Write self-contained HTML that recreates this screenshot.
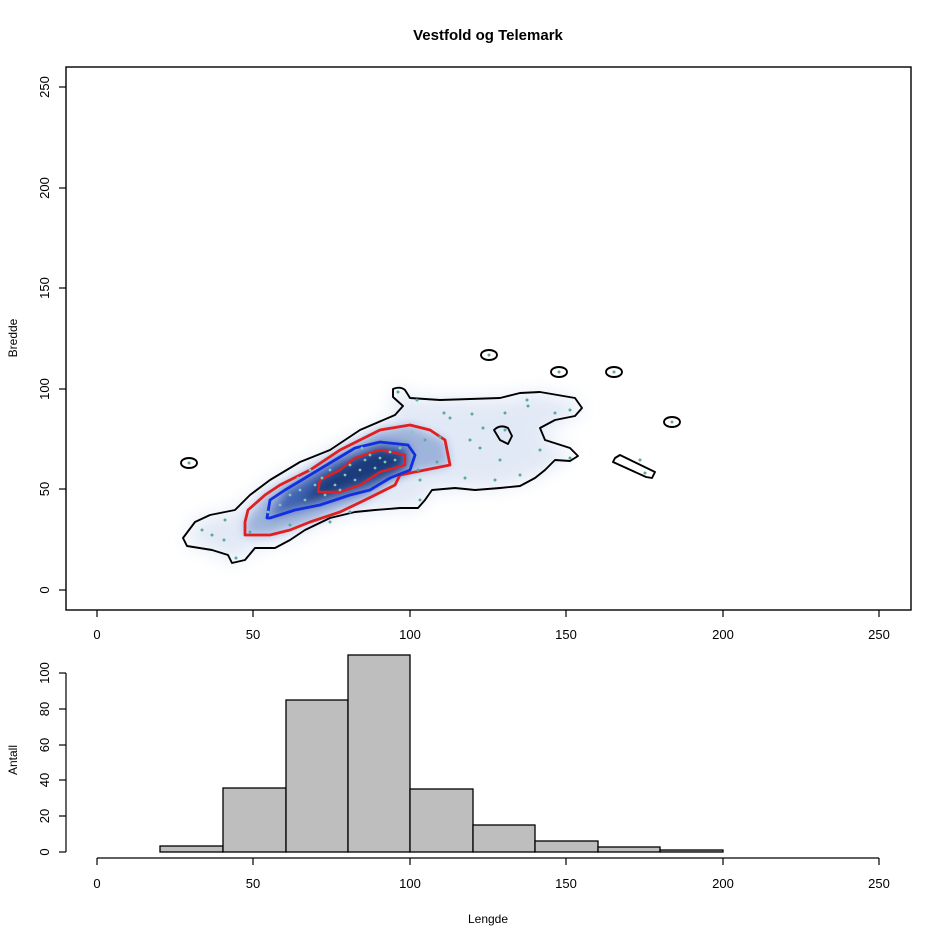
<!DOCTYPE html>
<html><head><style>
body{margin:0;background:#fff;}
svg{display:block;font-family:"Liberation Sans",Arial,sans-serif;}
</style></head><body>
<svg width="945" height="944" viewBox="0 0 945 944">
<defs>
<filter id="b1" x="-50%" y="-50%" width="200%" height="200%"><feGaussianBlur stdDeviation="9"/></filter>
<filter id="b2" x="-50%" y="-50%" width="200%" height="200%"><feGaussianBlur stdDeviation="5"/></filter>
</defs>
<text x="488" y="40" font-size="15" font-weight="bold" text-anchor="middle">Vestfold og Telemark</text>
<g filter="url(#b1)">
<path d="M393,389 L405,390 410,398 500,398 540,392 580,402 582,413 545,430 545,440 575,452 560,462 535,478 500,488 430,490 420,508 375,510 330,518 290,540 255,548 232,563 212,550 185,545 195,520 235,510 270,480 330,450 395,415 Z" fill="#e2e9f6"/>
</g>
<g filter="url(#b2)">
<path d="M245,522 L265,495 310,470 340,450 380,430 410,425 445,440 450,465 400,475 365,500 310,522 270,535 245,535 Z" fill="#9fb3dc"/>
<path d="M267,518 L285,490 335,460 380,442 410,445 410,470 370,490 320,505 270,518 Z" fill="#3d63b3"/>
<path d="M300,505 L320,480 355,458 380,448 405,455 400,468 360,485 320,498 Z" fill="#1b3a7a"/>
</g>
<g fill="none" stroke="#000" stroke-width="1.9" stroke-linejoin="round">
<path d="M393,389 Q400,386 405,390 L410,398 440,400 500,398 520,393 540,392 575,398 582,408 575,416 555,420 540,428 545,440 570,448 578,456 570,461 555,460 545,470 535,478 520,486 500,488 475,490 455,488 432,490 425,500 418,508 400,508 375,510 355,512 330,518 305,530 290,540 275,548 255,548 245,560 232,563 228,555 212,550 187,546 183,538 195,522 210,515 235,510 250,495 270,480 300,462 330,450 360,430 395,415 403,406 393,397 Z"/>
<ellipse cx="189" cy="463" rx="8" ry="5"/>
<ellipse cx="489" cy="355" rx="8" ry="5"/>
<ellipse cx="559" cy="372" rx="8" ry="5"/>
<ellipse cx="614" cy="372" rx="8" ry="5"/>
<ellipse cx="672" cy="422" rx="8" ry="5"/>
<path d="M494,430 Q500,424 508,428 L512,436 508,444 500,440 Z"/>
<path d="M615,458 L620,455 655,472 652,478 646,477 613,462 Z"/>
</g>
<path d="M245,522 L248,510 265,495 280,485 310,470 340,450 380,430 410,425 430,430 445,440 448,455 450,465 425,470 400,475 395,485 365,500 340,512 310,522 290,530 270,535 245,535 Z" fill="none" stroke="#e02020" stroke-width="2.8" stroke-linejoin="round"/>
<path d="M267,518 L270,500 285,490 310,475 335,460 355,448 380,442 408,445 415,455 410,470 390,478 370,490 350,495 320,505 295,510 270,518 Z" fill="none" stroke="#1030e0" stroke-width="2.8" stroke-linejoin="round"/>
<path d="M318,492 L320,480 340,470 355,458 380,450 405,455 405,465 380,472 360,485 340,492 Z" fill="none" stroke="#e02020" stroke-width="2.4" stroke-linejoin="round"/>
<g fill="#5aa8a0">
<circle cx="189" cy="463" r="1.5"/><circle cx="489" cy="355" r="1.5"/><circle cx="559" cy="372" r="1.5"/><circle cx="614" cy="372" r="1.5"/><circle cx="672" cy="422" r="1.5"/><circle cx="236" cy="558" r="1.5"/>
<circle cx="398" cy="392" r="1.5"/><circle cx="417" cy="400" r="1.5"/><circle cx="527" cy="400" r="1.5"/><circle cx="528" cy="406" r="1.5"/><circle cx="555" cy="413" r="1.5"/><circle cx="570" cy="410" r="1.5"/><circle cx="444" cy="413" r="1.5"/><circle cx="450" cy="418" r="1.5"/><circle cx="472" cy="414" r="1.5"/><circle cx="505" cy="413" r="1.5"/><circle cx="483" cy="428" r="1.5"/><circle cx="540" cy="450" r="1.5"/><circle cx="570" cy="458" r="1.5"/><circle cx="480" cy="448" r="1.5"/><circle cx="500" cy="460" r="1.5"/><circle cx="465" cy="478" r="1.5"/><circle cx="495" cy="480" r="1.5"/><circle cx="470" cy="440" r="1.5"/><circle cx="520" cy="475" r="1.5"/><circle cx="425" cy="440" r="1.5"/><circle cx="440" cy="437" r="1.5"/><circle cx="437" cy="462" r="1.5"/><circle cx="418" cy="470" r="1.5"/><circle cx="420" cy="480" r="1.5"/><circle cx="420" cy="500" r="1.5"/><circle cx="224" cy="540" r="1.5"/><circle cx="212" cy="535" r="1.5"/><circle cx="202" cy="530" r="1.5"/><circle cx="225" cy="520" r="1.5"/><circle cx="250" cy="532" r="1.5"/><circle cx="290" cy="525" r="1.5"/><circle cx="330" cy="522" r="1.5"/><circle cx="350" cy="512" r="1.5"/><circle cx="640" cy="460" r="1.5"/><circle cx="645" cy="473" r="1.5"/><circle cx="505" cy="430" r="1.5"/>
</g>
<g fill="#7fc8b8">
<circle cx="280" cy="505" r="1.4"/><circle cx="290" cy="495" r="1.4"/><circle cx="300" cy="490" r="1.4"/><circle cx="305" cy="500" r="1.4"/><circle cx="315" cy="485" r="1.4"/><circle cx="322" cy="478" r="1.4"/><circle cx="330" cy="470" r="1.4"/><circle cx="335" cy="485" r="1.4"/><circle cx="345" cy="475" r="1.4"/><circle cx="350" cy="465" r="1.4"/><circle cx="355" cy="480" r="1.4"/><circle cx="360" cy="470" r="1.4"/><circle cx="365" cy="460" r="1.4"/><circle cx="370" cy="455" r="1.4"/><circle cx="375" cy="468" r="1.4"/><circle cx="380" cy="458" r="1.4"/><circle cx="385" cy="462" r="1.4"/><circle cx="390" cy="452" r="1.4"/><circle cx="395" cy="460" r="1.4"/><circle cx="400" cy="448" r="1.4"/><circle cx="340" cy="490" r="1.4"/><circle cx="325" cy="495" r="1.4"/><circle cx="310" cy="470" r="1.4"/><circle cx="298" cy="478" r="1.4"/><circle cx="362" cy="448" r="1.4"/><circle cx="372" cy="440" r="1.4"/><circle cx="405" cy="438" r="1.4"/><circle cx="412" cy="432" r="1.4"/><circle cx="428" cy="448" r="1.4"/><circle cx="268" cy="512" r="1.4"/><circle cx="260" cy="520" r="1.4"/><circle cx="275" cy="525" r="1.4"/>
</g>
<rect x="66" y="67" width="845" height="543" fill="none" stroke="#000" stroke-width="1.4"/>
<g stroke="#000" stroke-width="1.2">
<line x1="97" y1="610" x2="97" y2="617"/><line x1="253" y1="610" x2="253" y2="617"/><line x1="410" y1="610" x2="410" y2="617"/><line x1="566" y1="610" x2="566" y2="617"/><line x1="723" y1="610" x2="723" y2="617"/><line x1="879" y1="610" x2="879" y2="617"/>
<line x1="59" y1="590" x2="66" y2="590"/><line x1="59" y1="489" x2="66" y2="489"/><line x1="59" y1="389" x2="66" y2="389"/><line x1="59" y1="288" x2="66" y2="288"/><line x1="59" y1="188" x2="66" y2="188"/><line x1="59" y1="87" x2="66" y2="87"/>
</g>
<g font-size="13" text-anchor="middle">
<text x="97" y="639">0</text><text x="253" y="639">50</text><text x="410" y="639">100</text><text x="566" y="639">150</text><text x="723" y="639">200</text><text x="879" y="639">250</text>
</g>
<g font-size="13" text-anchor="middle">
<text transform="translate(49,590) rotate(-90)">0</text><text transform="translate(49,489) rotate(-90)">50</text><text transform="translate(49,389) rotate(-90)">100</text><text transform="translate(49,288) rotate(-90)">150</text><text transform="translate(49,188) rotate(-90)">200</text><text transform="translate(49,87) rotate(-90)">250</text>
<text transform="translate(17,338) rotate(-90)" font-size="12">Bredde</text>
</g>
<g fill="#bebebe" stroke="#000" stroke-width="1.3">
<rect x="160" y="846" width="63" height="6"/>
<rect x="223" y="788" width="63" height="64"/>
<rect x="286" y="700" width="62" height="152"/>
<rect x="348" y="655" width="62" height="197"/>
<rect x="410" y="789" width="63" height="63"/>
<rect x="473" y="825" width="62" height="27"/>
<rect x="535" y="841" width="63" height="11"/>
<rect x="598" y="847" width="62" height="5"/>
<rect x="660" y="850" width="63" height="2"/>
</g>
<g stroke="#000" stroke-width="1.2">
<line x1="97" y1="858" x2="879" y2="858"/>
<line x1="97" y1="858" x2="97" y2="865"/><line x1="253" y1="858" x2="253" y2="865"/><line x1="410" y1="858" x2="410" y2="865"/><line x1="566" y1="858" x2="566" y2="865"/><line x1="723" y1="858" x2="723" y2="865"/><line x1="879" y1="858" x2="879" y2="865"/>
<line x1="66" y1="673" x2="66" y2="852"/>
<line x1="59" y1="852" x2="66" y2="852"/><line x1="59" y1="816" x2="66" y2="816"/><line x1="59" y1="780" x2="66" y2="780"/><line x1="59" y1="745" x2="66" y2="745"/><line x1="59" y1="709" x2="66" y2="709"/><line x1="59" y1="673" x2="66" y2="673"/>
</g>
<g font-size="13" text-anchor="middle">
<text x="97" y="888">0</text><text x="253" y="888">50</text><text x="410" y="888">100</text><text x="566" y="888">150</text><text x="723" y="888">200</text><text x="879" y="888">250</text>
<text x="488" y="923" font-size="12">Lengde</text>
<text transform="translate(49,852) rotate(-90)">0</text><text transform="translate(49,816) rotate(-90)">20</text><text transform="translate(49,780) rotate(-90)">40</text><text transform="translate(49,745) rotate(-90)">60</text><text transform="translate(49,709) rotate(-90)">80</text><text transform="translate(49,673) rotate(-90)">100</text>
<text transform="translate(17,760) rotate(-90)" font-size="12">Antall</text>
</g>
</svg>
</body></html>
